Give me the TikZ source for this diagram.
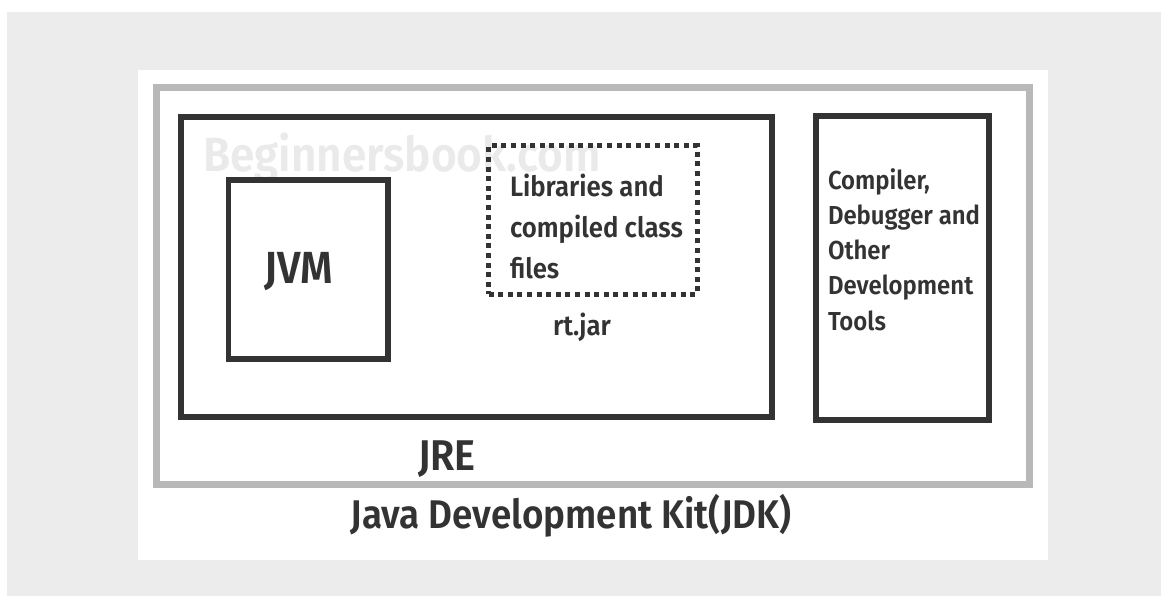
\documentclass[tikz,border=0pt]{standalone}
\usepackage{fontspec}
\setmainfont{Fira Sans}[UprightFont={* SemiBold},FakeStretch=0.92]
\begin{document}
\begin{tikzpicture}[x=1pt,y=-1pt,
  blackbox/.style={draw=boxgray,line width=6pt,inner sep=0pt,outer sep=0pt},
  dotbox/.style={draw=boxgray,line width=5pt,dash pattern=on 5pt off 4.6pt,inner sep=0pt,outer sep=0pt},
  lbl/.style={text=txtgray,inner sep=0pt,outer sep=0pt}]
\definecolor{boxgray}{HTML}{333333}
\definecolor{txtgray}{HTML}{333333}
\definecolor{bggray}{HTML}{ECECEC}
\definecolor{jdkgray}{HTML}{B8B8B8}
\definecolor{wmgray}{HTML}{EAEAEA}
\useasboundingbox (0,0) rectangle (1161,596);
\fill[white] (0,0) rectangle (1161,596);
\fill[bggray] (7,12) rectangle (1161,596);
\fill[white] (138,70) rectangle (1048,560);
% watermark
\node[text=wmgray,inner sep=0pt,anchor=base west,font=\fontsize{48}{48}\selectfont] (wm) at (203,172) {Beginnersbook.com};
% boxes
\node[draw=jdkgray,line width=7pt,inner sep=0pt,outer sep=0pt,minimum width=873pt,minimum height=396pt] (jdk) at (592.5,286) {};
\node[blackbox,minimum width=591pt,minimum height=300pt] (jre) at (476,267) {};
\node[blackbox,line width=5.5pt,minimum width=159.5pt,minimum height=179pt] (jvm) at (308.25,269.5) {};
\node[dotbox,minimum width=208.5pt,minimum height=148pt] (lib) at (592.75,220) {};
\node[blackbox,minimum width=173pt,minimum height=304pt] (tools) at (902.5,268) {};
% labels
\node[lbl,anchor=base,font=\fontsize{45}{45}\selectfont] (jvmt) at (299,283) {JVM};
\node[lbl,anchor=base west,align=left,font=\fontsize{28}{41}\selectfont] (libt) at (510,278) {Libraries and\\compiled class\\files};
\node[lbl,anchor=base,font=\fontsize{28}{28}\selectfont] (rt) at (582,335) {rt.jar};
\node[lbl,anchor=base west,align=left,font=\fontsize{26}{35.2}\selectfont] (toolst) at (828,330) {Compiler,\\Debugger and\\Other\\Development\\Tools};
\node[lbl,anchor=base,font=\fontsize{43}{43}\selectfont] (jret) at (447,470) {JRE};
\node[lbl,anchor=base,font=\fontsize{40}{40}\selectfont] (jdkt) at (571,528) {Java Development Kit(JDK)};
\end{tikzpicture}
\end{document}
